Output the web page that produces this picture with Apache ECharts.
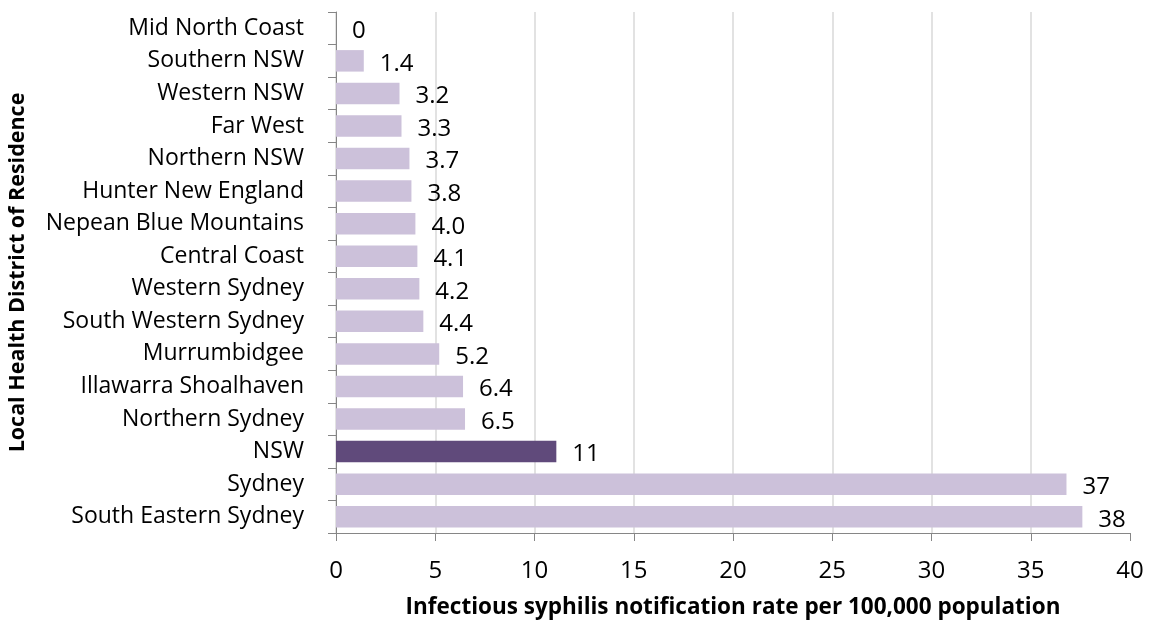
<!DOCTYPE html>
<html>
<head>
<meta charset="utf-8">
<script src="https://cdn.jsdelivr.net/npm/echarts@6/dist/echarts.min.js"></script>
<style>
  html, body { margin: 0; padding: 0; background: #fff; }
  #chart { width: 1151px; height: 624px; }
</style>
</head>
<body>
<div id="chart"></div>
<script>
  // districts, top to bottom
  var districts = ['Mid North Coast', 'Southern NSW', 'Western NSW', 'Far West', 'Northern NSW',
    'Hunter New England', 'Nepean Blue Mountains', 'Central Coast', 'Western Sydney',
    'South Western Sydney', 'Murrumbidgee', 'Illawarra Shoalhaven', 'Northern Sydney',
    'NSW', 'Sydney', 'South Eastern Sydney'];
  var rates = [0, 1.4, 3.2, 3.3, 3.7, 3.8, 4.0, 4.1, 4.2, 4.4, 5.2, 6.4, 6.5, 11.1, 36.8, 37.6];
  var rateLabels = ['0', '1.4', '3.2', '3.3', '3.7', '3.8', '4.0', '4.1', '4.2', '4.4', '5.2',
    '6.4', '6.5', '11', '37', '38'];
  var xTicks = [0, 5, 10, 15, 20, 25, 30, 35, 40];

  var font = '"Open Sans", sans-serif';

  var barData = [];
  for (var i = 0; i < rates.length; i++) {
    barData.push({
      value: rates[i],
      itemStyle: { color: districts[i] === 'NSW' ? '#604a7b' : '#ccc1da' }
    });
  }

  var chart = echarts.init(document.getElementById('chart'));
  chart.setOption({
    animation: false,
    textStyle: { fontFamily: font },
    grid: { left: 336, right: 21, top: 12, bottom: 91, outerBoundsMode: 'none', containLabel: false },
    xAxis: {
      type: 'value',
      min: xTicks[0],
      max: xTicks[xTicks.length - 1],
      interval: 5,
      name: 'Infectious syphilis notification rate per 100,000 population',
      nameLocation: 'middle',
      nameGap: 63,
      nameTextStyle: { fontFamily: font, fontSize: 22.5, fontWeight: 'bold', color: '#000' },
      axisLine: { show: true, lineStyle: { color: '#868686', width: 1 } },
      axisTick: { show: true, length: 8, lineStyle: { color: '#868686' } },
      axisLabel: { fontFamily: font, fontSize: 24, color: '#000', margin: 26 },
      splitLine: {
        show: true,
        lineStyle: { color: ['#d9d9d9', '#d9d9d9', '#d9d9d9', '#d9d9d9', '#d9d9d9',
          '#d9d9d9', '#d9d9d9', '#d9d9d9', 'rgba(0,0,0,0)'], width: 1.5 }
      }
    },
    yAxis: {
      type: 'category',
      inverse: true,
      data: districts,
      name: 'Local Health District of Residence',
      nameLocation: 'middle',
      nameRotate: 90,
      nameGap: 307,
      nameTextStyle: { fontFamily: font, fontSize: 21.5, fontWeight: 'bold', color: '#000' },
      axisLine: { show: true, lineStyle: { color: '#868686', width: 1 } },
      axisTick: { show: true, length: 8, lineStyle: { color: '#868686' } },
      axisLabel: { fontFamily: font, fontSize: 23, color: '#000', margin: 32 }
    },
    series: [{
      type: 'bar',
      data: barData,
      barCategoryGap: '34%',
      label: {
        show: true,
        position: 'right',
        distance: 16,
        fontFamily: font,
        fontSize: 24,
        color: '#000',
        offset: [0, 3],
        formatter: function (p) { return rateLabels[p.dataIndex]; }
      }
    }]
  });
</script>
</body>
</html>
